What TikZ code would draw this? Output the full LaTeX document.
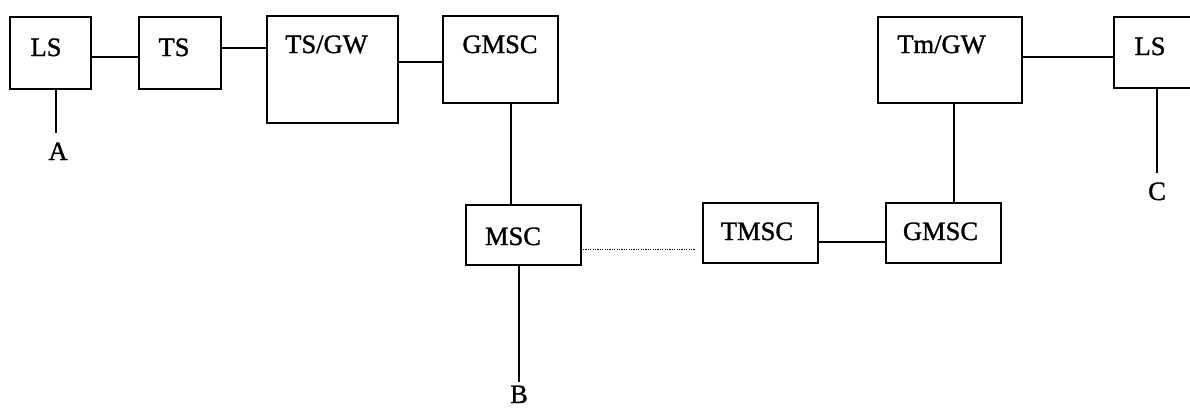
\documentclass[tikz,border=0pt]{standalone}
\usepackage{fontspec}
\setmainfont[FakeBold=1.2]{Liberation Serif}
\begin{document}
\begin{tikzpicture}[x=1pt,y=-1pt,
  box/.style={draw,line width=1.5pt,inner sep=0pt,outer sep=0pt},
  lbl/.style={anchor=base,inner sep=0pt,font=\fontsize{26.5}{30}\selectfont},
  wire/.style={line width=1.4pt},
  dotwire/.style={line width=0.9pt,dash pattern=on 1.2pt off 1.2pt}]
\useasboundingbox (0,0) rectangle (1190,410);
% boxes
\node[box,minimum width=81pt,minimum height=72pt] (ls1) at (50.5,53) {};
\node[box,minimum width=82pt,minimum height=72pt] (ts) at (180,53) {};
\node[box,minimum width=131pt,minimum height=107pt] (tsgw) at (332.5,69.5) {};
\node[box,minimum width=115pt,minimum height=87pt] (gmsc1) at (500.5,59.5) {};
\node[box,minimum width=115pt,minimum height=60pt] (msc) at (523.5,235) {};
\node[box,minimum width=115pt,minimum height=60pt] (tmsc) at (760.5,233) {};
\node[box,minimum width=115pt,minimum height=60pt] (gmsc2) at (943.5,233) {};
\node[box,minimum width=144pt,minimum height=86pt] (tmgw) at (950,60) {};
\node[box,minimum width=86pt,minimum height=71pt] (ls2) at (1157,52.5) {};
% labels
\node[lbl] (lls1) at (46,56) {LS};
\node[lbl] (lts) at (174,56) {TS};
\node[lbl] (ltsgw) at (326.5,53) {TS/GW};
\node[lbl] (lgmsc1) at (500,53) {GMSC};
\node[lbl] (lmsc) at (513,245) {MSC};
\node[lbl] (ltmsc) at (757,240) {TMSC};
\node[lbl] (lgmsc2) at (940.5,240) {GMSC};
\node[lbl] (ltmgw) at (941.5,53) {Tm/GW};
\node[lbl] (lls2) at (1150,55) {LS};
\node[lbl] (A) at (58,160) {A};
\node[lbl] (C) at (1157,200) {C};
\node[lbl] (B) at (519,403) {B};
% free ends
\coordinate (aend) at (56,133);
\coordinate (bend) at (519,382);
\coordinate (cend) at (1157,173);
% connectors
\draw[wire] (ls1.east |- 0,57) -- (ts.west |- 0,57);
\draw[wire] (ts.east |- 0,48) -- (tsgw.west |- 0,48);
\draw[wire] (tsgw.east |- 0,62) -- (gmsc1.west |- 0,62);
\draw[wire] (gmsc1.south -| 511,0) -- (msc.north -| 511,0);
\draw[wire] (msc.south -| bend) -- (bend);
\draw[dotwire] ([xshift=2pt]msc.east |- 0,249) -- ([xshift=-8pt]tmsc.west |- 0,249);
\draw[wire] (tmsc.east |- 0,242) -- (gmsc2.west |- 0,242);
\draw[wire] (gmsc2.north -| 954,0) -- (tmgw.south -| 954,0);
\draw[wire] (tmgw.east |- 0,57) -- (ls2.west |- 0,57);
\draw[wire] (ls1.south -| aend) -- (aend);
\draw[wire] (ls2.south -| cend) -- (cend);
\end{tikzpicture}
\end{document}
